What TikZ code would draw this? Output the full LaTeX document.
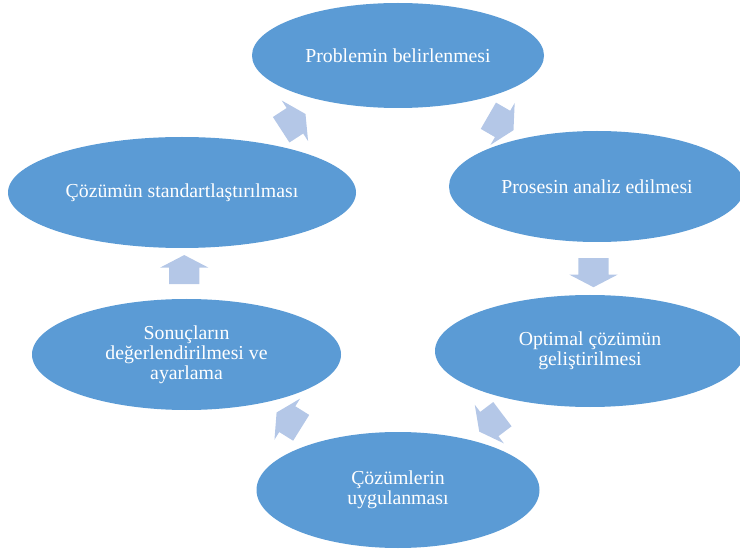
\documentclass[tikz,border=0pt]{standalone}
\usepackage{fontspec}
\setmainfont{Liberation Serif}
\usepackage{xcolor}
\usetikzlibrary{shapes.geometric,shapes.arrows,calc}

\definecolor{stepblue}{RGB}{91,155,213}
\definecolor{arrowblue}{RGB}{180,199,231}

\begin{document}
\begin{tikzpicture}[x=1pt, y=1pt,
        stage/.style={ellipse, fill=stepblue, draw=none, inner sep=0pt,
            align=center, text=white, font=\fontsize{19.8}{20}\selectfont},
        cyclearrow/.style={single arrow, fill=arrowblue, draw=none,
            inner xsep=0pt, inner ysep=15pt,
            minimum width=48pt, minimum height=29pt, single arrow head extend=9pt,
            single arrow tip angle=125}]
        \useasboundingbox (0, 0) rectangle (740, 550);

        \node[stage, minimum width=292pt, minimum height=105pt] (prob) at (398, 494.5) {Problemin belirlenmesi};
        \node[stage, minimum width=296pt, minimum height=111pt] (proses) at (597, 363.5) {Prosesin analiz edilmesi};
        \node[stage, minimum width=310pt, minimum height=112pt] (optimal) at (590, 199) {Optimal çözümün\\geliştirilmesi};
        \node[stage, minimum width=283pt, minimum height=116pt] (uygula) at (398, 60) {Çözümlerin\\uygulanması};
        \node[stage, minimum width=309pt, minimum height=111pt] (sonuc) at (186.5, 195.5) {Sonuçların\\değerlendirilmesi ve\\ayarlama};
        \node[stage, minimum width=348pt, minimum height=111pt] (standart) at (182, 357.5) {Çözümün standartlaştırılması};

        % arrows between the stages, clockwise
        \foreach \a/\b/\r [count=\i] in {prob/proses/-30, proses/optimal/-90, optimal/uygula/-143,
                uygula/sonuc/148, sonuc/standart/90, standart/prob/33} {
            \node[cyclearrow, rotate=\r] (arrow\i) at ($(\a)!0.5!(\b)$) {};
        }
\end{tikzpicture}
\end{document}
